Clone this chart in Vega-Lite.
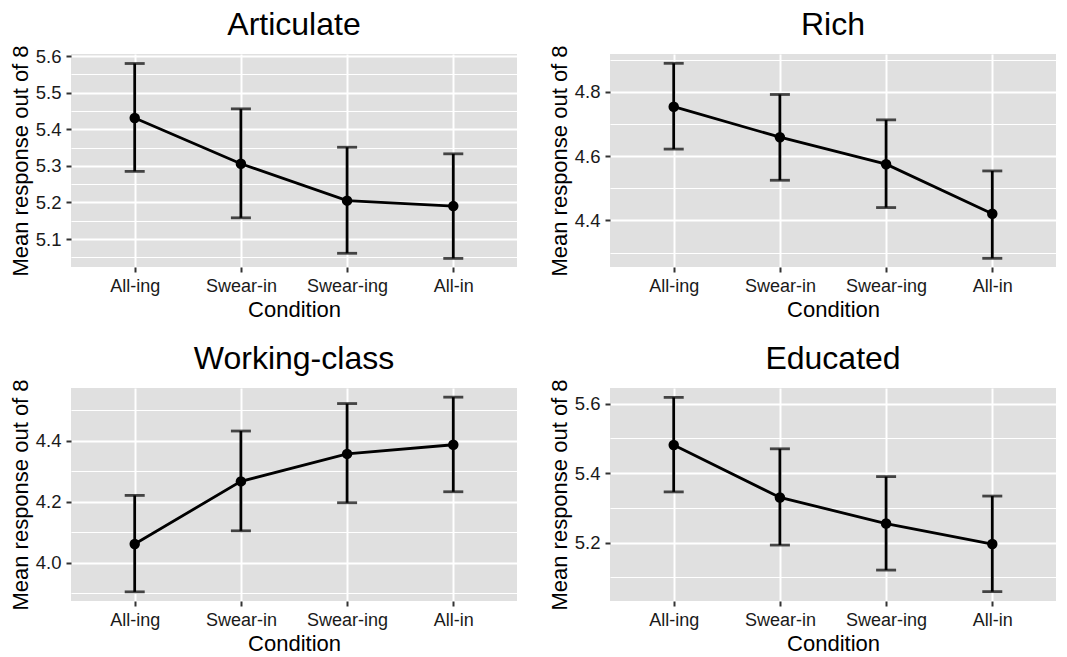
{
  "$schema": "https://vega.github.io/schema/vega-lite/v6.json",
  "padding": {"left": 9, "top": 8, "right": 2, "bottom": 2},
  "background": "white",
  "datasets": {
    "means": [
      {"panel": "Articulate", "condition": "All-ing", "mean": 5.431, "lo": 5.285, "hi": 5.580},
      {"panel": "Articulate", "condition": "Swear-in", "mean": 5.306, "lo": 5.158, "hi": 5.456},
      {"panel": "Articulate", "condition": "Swear-ing", "mean": 5.205, "lo": 5.061, "hi": 5.351},
      {"panel": "Articulate", "condition": "All-in", "mean": 5.190, "lo": 5.047, "hi": 5.333},
      {"panel": "Rich", "condition": "All-ing", "mean": 4.754, "lo": 4.622, "hi": 4.889},
      {"panel": "Rich", "condition": "Swear-in", "mean": 4.659, "lo": 4.525, "hi": 4.792},
      {"panel": "Rich", "condition": "Swear-ing", "mean": 4.575, "lo": 4.440, "hi": 4.713},
      {"panel": "Rich", "condition": "All-in", "mean": 4.421, "lo": 4.282, "hi": 4.554},
      {"panel": "Working-class", "condition": "All-ing", "mean": 4.062, "lo": 3.905, "hi": 4.221},
      {"panel": "Working-class", "condition": "Swear-in", "mean": 4.267, "lo": 4.105, "hi": 4.432},
      {"panel": "Working-class", "condition": "Swear-ing", "mean": 4.357, "lo": 4.197, "hi": 4.522},
      {"panel": "Working-class", "condition": "All-in", "mean": 4.387, "lo": 4.233, "hi": 4.543},
      {"panel": "Educated", "condition": "All-ing", "mean": 5.481, "lo": 5.346, "hi": 5.618},
      {"panel": "Educated", "condition": "Swear-in", "mean": 5.330, "lo": 5.193, "hi": 5.470},
      {"panel": "Educated", "condition": "Swear-ing", "mean": 5.255, "lo": 5.121, "hi": 5.390},
      {"panel": "Educated", "condition": "All-in", "mean": 5.196, "lo": 5.059, "hi": 5.334}
    ]
  },
  "data": {"name": "means"},
  "columns": 2,
  "spacing": {"row": 22, "column": 31},
  "concat": [
    {
      "title": "Articulate",
      "width": 446, "height": 213,
      "transform": [{"filter": "datum.panel === 'Articulate'"}],
      "encoding": {"x": {"field": "condition", "type": "ordinal", "sort": ["All-ing", "Swear-in", "Swear-ing", "All-in"], "scale": {"type": "point", "padding": 0.6}, "axis": {"title": "Condition", "labelAngle": 0, "grid": true, "labelPadding": 5, "titlePadding": 4}}},
      "layer": [
        {"mark": {"type": "errorbar", "ticks": {"size": 20}, "thickness": 2.8, "color": "black"},
         "encoding": {"y": {"field": "lo", "type": "quantitative", "scale": {"domain": [5.0235, 5.606], "zero": false, "nice": false}, "axis": {"values": [5.1, 5.2, 5.3, 5.4, 5.5, 5.6], "format": ".1f", "title": "Mean response out of 8", "grid": true, "labelFontSize": 18.5, "labelPadding": 5}}, "y2": {"field": "hi"}}},
        {"mark": {"type": "line", "color": "black", "strokeWidth": 2.8}, "encoding": {"y": {"field": "mean", "type": "quantitative", "axis": null}}},
        {"mark": {"type": "point", "filled": true, "size": 110, "color": "black", "opacity": 1}, "encoding": {"y": {"field": "mean", "type": "quantitative", "axis": {"orient": "right", "values": [5.05, 5.15, 5.25, 5.35, 5.45, 5.55], "grid": true, "gridWidth": 1.2, "labels": false, "ticks": false, "domain": false, "title": null}}}}
      ],
      "resolve": {"axis": {"y": "independent"}}
    },
    {
      "title": "Rich",
      "width": 446, "height": 213,
      "transform": [{"filter": "datum.panel === 'Rich'"}],
      "encoding": {"x": {"field": "condition", "type": "ordinal", "sort": ["All-ing", "Swear-in", "Swear-ing", "All-in"], "scale": {"type": "point", "padding": 0.6}, "axis": {"title": "Condition", "labelAngle": 0, "grid": true, "labelPadding": 5, "titlePadding": 4}}},
      "layer": [
        {"mark": {"type": "errorbar", "ticks": {"size": 20}, "thickness": 2.8, "color": "black"},
         "encoding": {"y": {"field": "lo", "type": "quantitative", "scale": {"domain": [4.255, 4.918], "zero": false, "nice": false}, "axis": {"values": [4.4, 4.6, 4.8], "format": ".1f", "title": "Mean response out of 8", "grid": true, "labelFontSize": 18.5, "labelPadding": 5}}, "y2": {"field": "hi"}}},
        {"mark": {"type": "line", "color": "black", "strokeWidth": 2.8}, "encoding": {"y": {"field": "mean", "type": "quantitative", "axis": null}}},
        {"mark": {"type": "point", "filled": true, "size": 110, "color": "black", "opacity": 1}, "encoding": {"y": {"field": "mean", "type": "quantitative", "axis": {"orient": "right", "values": [4.3, 4.5, 4.7, 4.9], "grid": true, "gridWidth": 1.2, "labels": false, "ticks": false, "domain": false, "title": null}}}}
      ],
      "resolve": {"axis": {"y": "independent"}}
    },
    {
      "title": "Working-class",
      "width": 446, "height": 213,
      "transform": [{"filter": "datum.panel === 'Working-class'"}],
      "encoding": {"x": {"field": "condition", "type": "ordinal", "sort": ["All-ing", "Swear-in", "Swear-ing", "All-in"], "scale": {"type": "point", "padding": 0.6}, "axis": {"title": "Condition", "labelAngle": 0, "grid": true, "labelPadding": 5, "titlePadding": 4}}},
      "layer": [
        {"mark": {"type": "errorbar", "ticks": {"size": 20}, "thickness": 2.8, "color": "black"},
         "encoding": {"y": {"field": "lo", "type": "quantitative", "scale": {"domain": [3.875, 4.573], "zero": false, "nice": false}, "axis": {"values": [4.0, 4.2, 4.4], "format": ".1f", "title": "Mean response out of 8", "grid": true, "labelFontSize": 18.5, "labelPadding": 5}}, "y2": {"field": "hi"}}},
        {"mark": {"type": "line", "color": "black", "strokeWidth": 2.8}, "encoding": {"y": {"field": "mean", "type": "quantitative", "axis": null}}},
        {"mark": {"type": "point", "filled": true, "size": 110, "color": "black", "opacity": 1}, "encoding": {"y": {"field": "mean", "type": "quantitative", "axis": {"orient": "right", "values": [3.9, 4.1, 4.3, 4.5], "grid": true, "gridWidth": 1.2, "labels": false, "ticks": false, "domain": false, "title": null}}}}
      ],
      "resolve": {"axis": {"y": "independent"}}
    },
    {
      "title": "Educated",
      "width": 446, "height": 213,
      "transform": [{"filter": "datum.panel === 'Educated'"}],
      "encoding": {"x": {"field": "condition", "type": "ordinal", "sort": ["All-ing", "Swear-in", "Swear-ing", "All-in"], "scale": {"type": "point", "padding": 0.6}, "axis": {"title": "Condition", "labelAngle": 0, "grid": true, "labelPadding": 5, "titlePadding": 4}}},
      "layer": [
        {"mark": {"type": "errorbar", "ticks": {"size": 20}, "thickness": 2.8, "color": "black"},
         "encoding": {"y": {"field": "lo", "type": "quantitative", "scale": {"domain": [5.032, 5.645], "zero": false, "nice": false}, "axis": {"values": [5.2, 5.4, 5.6], "format": ".1f", "title": "Mean response out of 8", "grid": true, "labelFontSize": 18.5, "labelPadding": 5}}, "y2": {"field": "hi"}}},
        {"mark": {"type": "line", "color": "black", "strokeWidth": 2.8}, "encoding": {"y": {"field": "mean", "type": "quantitative", "axis": null}}},
        {"mark": {"type": "point", "filled": true, "size": 110, "color": "black", "opacity": 1}, "encoding": {"y": {"field": "mean", "type": "quantitative", "axis": {"orient": "right", "values": [5.1, 5.3, 5.5], "grid": true, "gridWidth": 1.2, "labels": false, "ticks": false, "domain": false, "title": null}}}}
      ],
      "resolve": {"axis": {"y": "independent"}}
    }
  ],
  "config": {
    "font": "Liberation Sans",
    "view": {"fill": "#E0E0E0", "stroke": null},
    "title": {"fontSize": 32, "fontWeight": "normal", "color": "black", "frame": "group", "anchor": "middle", "offset": 3},
    "axis": {
      "labelFont": "Liberation Sans", "labelFontSize": 18, "labelColor": "#1a1a1a",
      "titleFont": "Liberation Sans", "titleFontSize": 22, "titleFontWeight": "normal", "titleColor": "black",
      "tickColor": "#333333", "tickWidth": 2, "tickSize": 5,
      "domain": false, "gridColor": "white", "gridWidth": 2, "gridOpacity": 1,
      "labelPadding": 3, "titlePadding": 3
    }
  }
}
